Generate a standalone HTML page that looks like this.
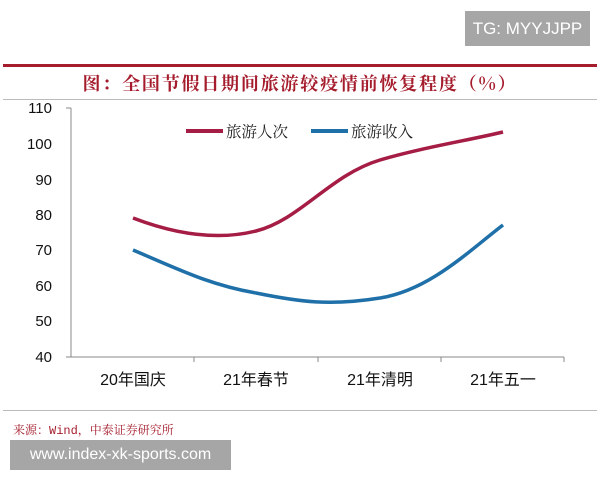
<!DOCTYPE html>
<html><head><meta charset="utf-8"><style>
body{margin:0;width:600px;height:480px;background:#fff;position:relative;overflow:hidden;font-family:"Liberation Sans","Noto Sans CJK SC",sans-serif}
.a{position:absolute}
</style></head><body>
<div class="a" style="left:465px;top:11px;width:125px;height:35px;background:#a6a6a6;color:#fff;font-size:17px;line-height:35px;text-align:center">TG: MYYJJPP</div>
<div class="a" style="left:3px;top:64px;width:594px;height:3px;background:#a51c2c"></div>
<div class="a" style="left:0;top:70px;width:600px;text-align:center;color:#a51c2c;font-size:18px;font-weight:bold;font-family:'Noto Serif CJK SC','Noto Sans CJK SC',serif;letter-spacing:1.8px">图：全国节假日期间旅游较疫情前恢复程度（%）</div>
<div class="a" style="left:3px;top:99px;width:594px;height:1px;background:#bbb"></div>
<svg class="a" style="left:0;top:0" width="600" height="480">
<g font-size="15" fill="#111" text-anchor="end" font-family="Liberation Sans">
<text x="52" y="113">110</text><text x="52" y="149">100</text><text x="52" y="185">90</text><text x="52" y="220">80</text><text x="52" y="255">70</text><text x="52" y="291">60</text><text x="52" y="326">50</text><text x="52" y="362">40</text>
</g>
<path d="M71 108V357H564M66 108H71M66 357H71M194 357v5M318 357v5M441 357v5M564 357v5" stroke="#888" fill="none"/>
<path d="M133 218C180 236 220 240 256 231C300 220 330 175 380 160C420 148 470 140 503 132" stroke="#a51c45" stroke-width="3.5" fill="none"/>
<path d="M133 250C180 270 210 285 256 293C300 302 330 306 380 298C430 290 470 250 503 225" stroke="#1f70a8" stroke-width="3.5" fill="none"/>
<line x1="186" y1="131" x2="223" y2="131" stroke="#a51c45" stroke-width="4"/>
<line x1="311" y1="131" x2="348" y2="131" stroke="#1f70a8" stroke-width="4"/>
<g font-family="Noto Serif CJK SC,serif" font-size="15.5" fill="#222"><text x="226" y="137">旅游人次</text><text x="351" y="137">旅游收入</text></g>
<g font-size="16" fill="#111" text-anchor="middle" font-family="Liberation Sans,Noto Sans CJK SC,sans-serif">
<text x="133" y="385">20年国庆</text><text x="256" y="385">21年春节</text><text x="380" y="385">21年清明</text><text x="503" y="385">21年五一</text>
</g>
</svg>
<div class="a" style="left:3px;top:410px;width:594px;height:1px;background:#bbb"></div>
<div class="a" style="left:13px;top:421px;color:#a51c2c;font-size:12px;font-family:'Liberation Mono','Noto Serif CJK SC',monospace">来源：Wind，中泰证券研究所</div>
<div class="a" style="left:10px;top:440px;width:221px;height:30px;background:#a6a6a6;color:#fff;font-size:16px;line-height:30px;text-align:center">www.index-xk-sports.com</div>
</body></html>
